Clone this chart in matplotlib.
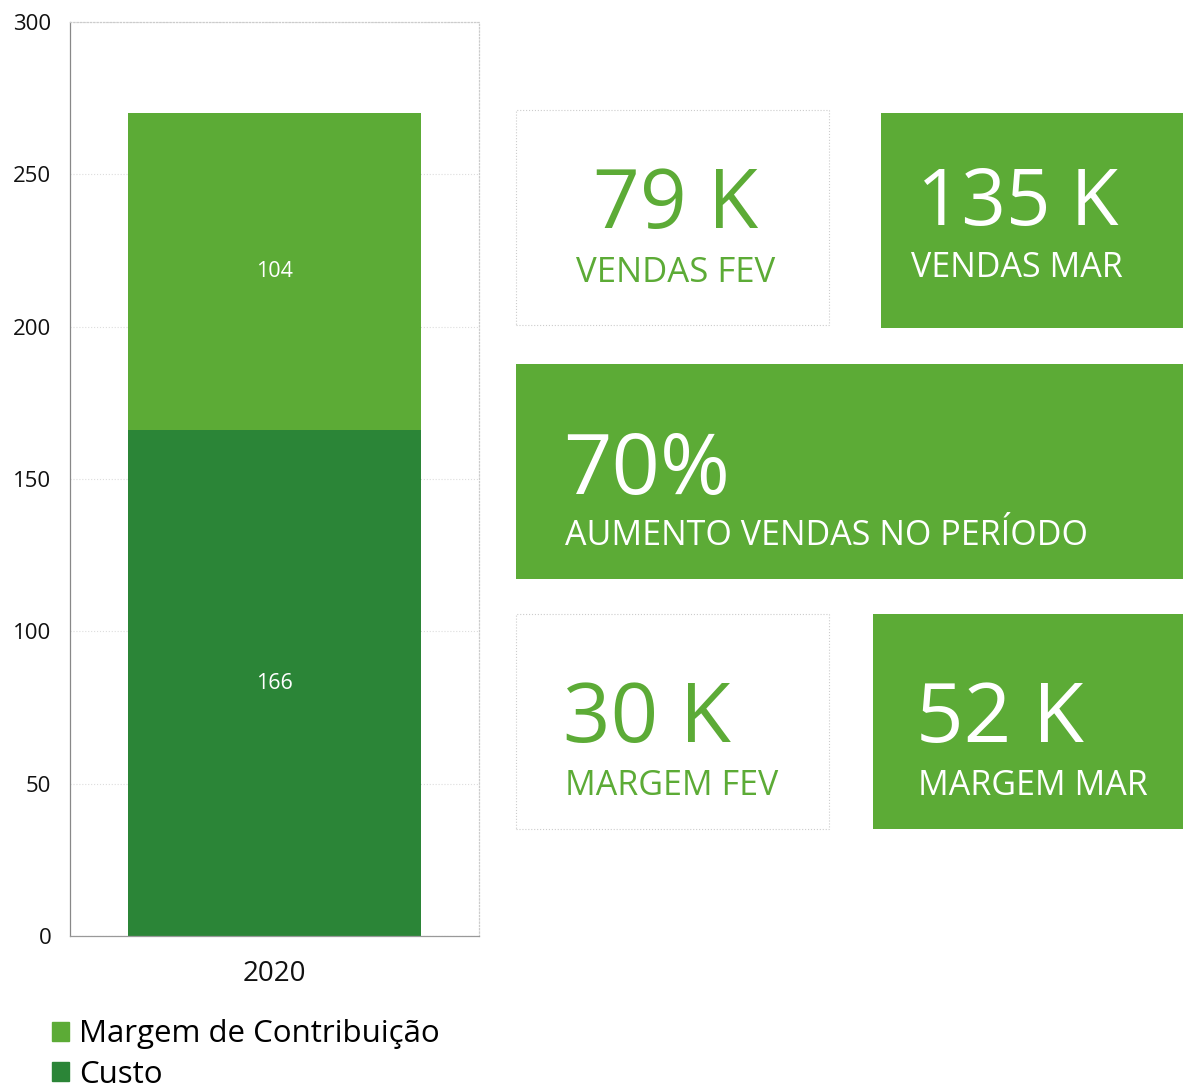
import matplotlib
matplotlib.use("Agg")
import matplotlib.pyplot as plt
from matplotlib.patches import Rectangle, Patch

plt.rcParams['font.family'] = ['Open Sans', 'DejaVu Sans']

# ---- data ----
categories = ["2020"]
custo = [166]
margem = [104]
series_labels = ["Margem de Contribuição", "Custo"]
y_ticks = [0, 50, 100, 150, 200, 250, 300]

kpi_values = ["79 K", "135 K", "70%", "30 K", "52 K"]
kpi_labels = ["VENDAS FEV", "VENDAS MAR", "AUMENTO VENDAS NO PERÍODO", "MARGEM FEV", "MARGEM MAR"]

LIGHT = "#5CAB36"
DARK = "#2B8537"

W, H = 1183, 1091
fig = plt.figure(figsize=(W / 100, H / 100), dpi=100)

def fx(px):
    return px / W

def fy(py):
    return 1 - py / H

# ---- bar chart ----
ax = fig.add_axes([fx(70), fy(936), fx(479) - fx(70), fy(22) - fy(936)])
x = list(range(len(categories)))
b1 = ax.bar(x, custo, width=0.714, color=DARK, zorder=2)
b2 = ax.bar(x, margem, bottom=custo, width=0.714, color=LIGHT, zorder=2)
for rect, v in zip(b1, custo):
    ax.text(rect.get_x() + rect.get_width() / 2, rect.get_y() + rect.get_height() / 2,
            str(v), ha='center', va='center', color='white', fontsize=15.5)
for rect, v in zip(b2, margem):
    ax.text(rect.get_x() + rect.get_width() / 2, rect.get_y() + rect.get_height() / 2,
            str(v), ha='center', va='center', color='white', fontsize=15.5)

ax.set_xlim(-0.5, 0.5)
ax.set_ylim(0, 300)
ax.set_yticks(y_ticks)
ax.set_xticks(x)
ax.set_xticklabels(categories)
ax.tick_params(axis='y', length=0, pad=13.5, labelsize=16, labelcolor='#111111')
ax.tick_params(axis='x', length=0, pad=17, labelsize=20, labelcolor='#111111')
ax.grid(axis='y', color='#dddddd', linestyle=':', linewidth=0.8, zorder=0)
ax.spines['left'].set_color('#888888')
ax.spines['bottom'].set_color('#999999')
ax.spines['top'].set_color('#cccccc')
ax.spines['top'].set_linestyle(':')
ax.spines['right'].set_color('#cccccc')
ax.spines['right'].set_linestyle(':')
for s in ax.spines.values():
    s.set_linewidth(0.9)

handles = [Patch(color=LIGHT), Patch(color=DARK)]
fig.legend(handles, series_labels, loc='upper left', bbox_to_anchor=(fx(46), fy(1013)),
           frameon=False, fontsize=22.5, handlelength=0.55, handleheight=0.55,
           handletextpad=0.3, labelspacing=0.33, borderaxespad=0, borderpad=0.2)

# ---- KPI boxes ----
boxes = [
    # (x0, y0, x1, y1, filled)
    (516, 110, 829, 325, False),
    (881, 113, 1183, 328, True),
    (516, 364, 1183, 579, True),
    (516, 614, 829, 829, False),
    (873, 614, 1183, 829, True),
]
for (x0, y0, x1, y1, filled) in boxes:
    if filled:
        r = Rectangle((fx(x0), fy(y1)), fx(x1) - fx(x0), fy(y0) - fy(y1),
                      transform=fig.transFigure, facecolor=LIGHT, edgecolor='none')
    else:
        r = Rectangle((fx(x0), fy(y1)), fx(x1) - fx(x0), fy(y0) - fy(y1),
                      transform=fig.transFigure, facecolor='white', edgecolor='#cccccc',
                      linestyle=':', linewidth=0.8)
    fig.add_artist(r)

# text placement: (value_x, value_baseline, label_x, label_baseline, ha, colour, value_size, label_size)
text_pos = [
    (676, 228, 676, 282, 'center', LIGHT, 59, 25),
    (917, 225, 911, 277, 'left', 'white', 56, 24.5),
    (563, 494, 565, 545, 'left', 'white', 61, 24.5),
    (563, 742, 565, 795, 'left', LIGHT, 60, 24.5),
    (916, 742, 918, 795, 'left', 'white', 60, 24.5),
]
for val, lab, (vx, vy, lx, ly, ha, col, vs, ls) in zip(kpi_values, kpi_labels, text_pos):
    fig.text(fx(vx), fy(vy), val, ha=ha, va='baseline', color=col, fontsize=vs)
    fig.text(fx(lx), fy(ly), lab, ha=ha, va='baseline', color=col, fontsize=ls)

fig.savefig("out.png", dpi=100, facecolor='white')
